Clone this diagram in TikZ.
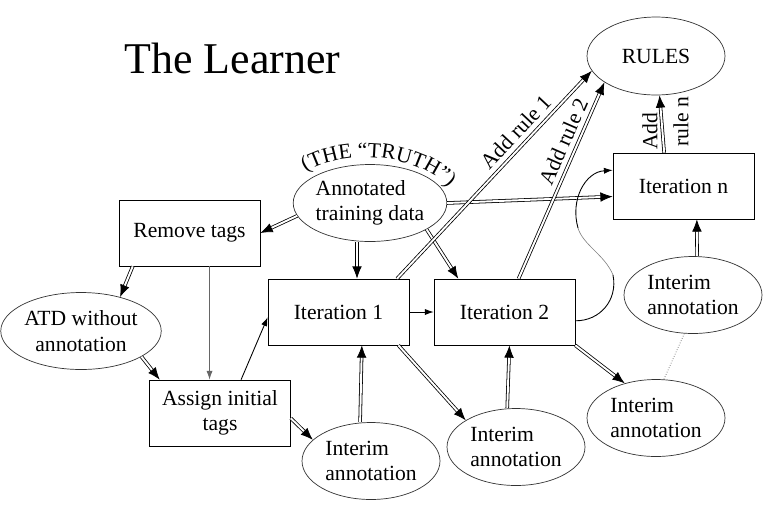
\documentclass[tikz,border=0pt]{standalone}
\usepackage{fontspec}
\setmainfont{Liberation Serif}
\usetikzlibrary{arrows.meta,shapes.geometric,decorations.text}

\begin{document}
\begin{tikzpicture}[x=0.02cm, y=-0.02cm,
		txt/.style={font=\fontsize{12.3}{14.5}\selectfont},
		stepbox/.style={txt, rectangle, draw=black, thin, minimum width=2.82cm, minimum height=1.32cm, inner sep=0pt, align=center},
		datablob/.style={txt, ellipse, draw=black!80, thin, minimum width=2.76cm, minimum height=1.54cm, inner sep=0pt, align=center},
		dblarrow/.style={double, double distance=1.1pt, line width=0.45pt, -{Latex[length=7pt, width=5.5pt]}},
		plainarrow/.style={line width=0.5pt, -{Latex[length=5pt, width=3.5pt]}}]
		
		\useasboundingbox (0,0) rectangle (783,508);
		
		% Title
		\node[anchor=base, font=\fontsize{25}{30}\selectfont] (title) at (232.5, 73) {The Learner};
		
		% Boxes
		\node[stepbox] (remove) at (189.5, 233) {Remove tags};
		\node[stepbox] (assign) at (220, 413) {Assign initial\\tags};
		\node[stepbox] (it1) at (338.5, 312) {Iteration 1};
		\node[stepbox] (it2) at (504.5, 312) {Iteration 2};
		\node[stepbox] (itn) at (683.5, 186) {Iteration n};
		
		% Ellipses
		\node[datablob, minimum height=1.56cm] (rules) at (656, 56) {RULES};
		\node[datablob, align=left] (atd) at (370, 203) {Annotated\\training data};
		\node[datablob] (atdw) at (81, 331) {ATD without\\annotation};
		\node[datablob, align=left] (int1) at (371, 461) {Interim\\annotation};
		\node[datablob, align=left] (int2) at (516, 447) {Interim\\annotation};
		\node[datablob, align=left] (int3) at (656, 418) {Interim\\annotation};
		\node[datablob, align=left] (int4) at (693, 295) {Interim\\annotation};
		
		% The truth, bent over the training data
		\path[decorate, decoration={text along path, text align=center,
			text={|\fontsize{12.3}{14.5}\selectfont|(THE “TRUTH”)}}]
			(298,178) .. controls (330,148) and (420,148) .. (455,195);
		
		% Connect
		\draw[dblarrow] (atd.190) -- (remove.east);
		\draw[dblarrow] ([xshift=8pt]remove.south west) -- (atdw.41);
		\draw[plainarrow, black!60] ([xshift=11.4pt]remove.south) -- ([xshift=11.4pt]remove.south |- assign.north);
		\draw[dblarrow] (atdw.-23) -- ([xshift=6pt]assign.north west);
		\draw[plainarrow] ([xshift=12pt]assign.north) -- ([yshift=-3pt]it1.west);
		\draw[dblarrow] ([yshift=-3pt]assign.east) -- (int1.160);
		\draw[dblarrow] ([xshift=-6.2pt]int1.north) -- ([xshift=13.3pt]it1.south);
		\draw[plainarrow] (it1.east) -- (it2.west);
		\draw[dblarrow] ([xshift=-6.2pt]it1.south east) -- (int2.152);
		\draw[dblarrow] ([xshift=-5pt]int2.north) -- ([xshift=2.8pt]it2.south);
		\draw[dblarrow] (it2.south east) -- (int3.132);
		\draw[black!60, densely dotted, line width=0.4pt] ([xshift=4.5pt]int3.north) -- ([xshift=-5pt]int4.south);
		\draw[dblarrow] ([xshift=2.3pt]int4.north) -- ([xshift=7.6pt]itn.south);
		\draw[dblarrow] ([xshift=-7.4pt]atd.south) -- ([xshift=-7.4pt]atd.south |- it1.north);
		\draw[dblarrow] (atd.-25) -- ([xshift=14pt]it2.north west);
		\draw[dblarrow] (atd.east) -- ([yshift=-6pt]itn.west);
		\draw[dblarrow] ([xshift=-7pt]it1.north east) -- node[txt, sloped, above, pos=0.66] {Add rule 1} (rules.193);
		\draw[dblarrow] ([xshift=8pt]it2.north) -- node[txt, sloped, above, pos=0.67] {Add rule 2} (rules.207);
		\draw[dblarrow] ([xshift=-11pt]itn.north) -- ([xshift=2pt]rules.south);
		\node[txt, rotate=90] (addn) at (650, 131) {Add};
		\node[txt, rotate=90] (rulen) at (681, 122) {rule n};
		
		% Loop round to the last iteration
		\coordinate (loopa) at (613, 275);
		\coordinate (loopb) at (578, 228);
		\draw[line width=0.5pt] ([yshift=-5pt]it2.east) .. controls (600, 321) and (618, 300) .. (loopa);
		\draw[black!50, line width=0.35pt] (loopa) .. controls (605, 255) and (583, 245) .. (loopb);
		\draw[plainarrow] (loopb) .. controls (570, 200) and (585, 172) .. ([yshift=9pt]itn.west);
		
	\end{tikzpicture}
\end{document}
